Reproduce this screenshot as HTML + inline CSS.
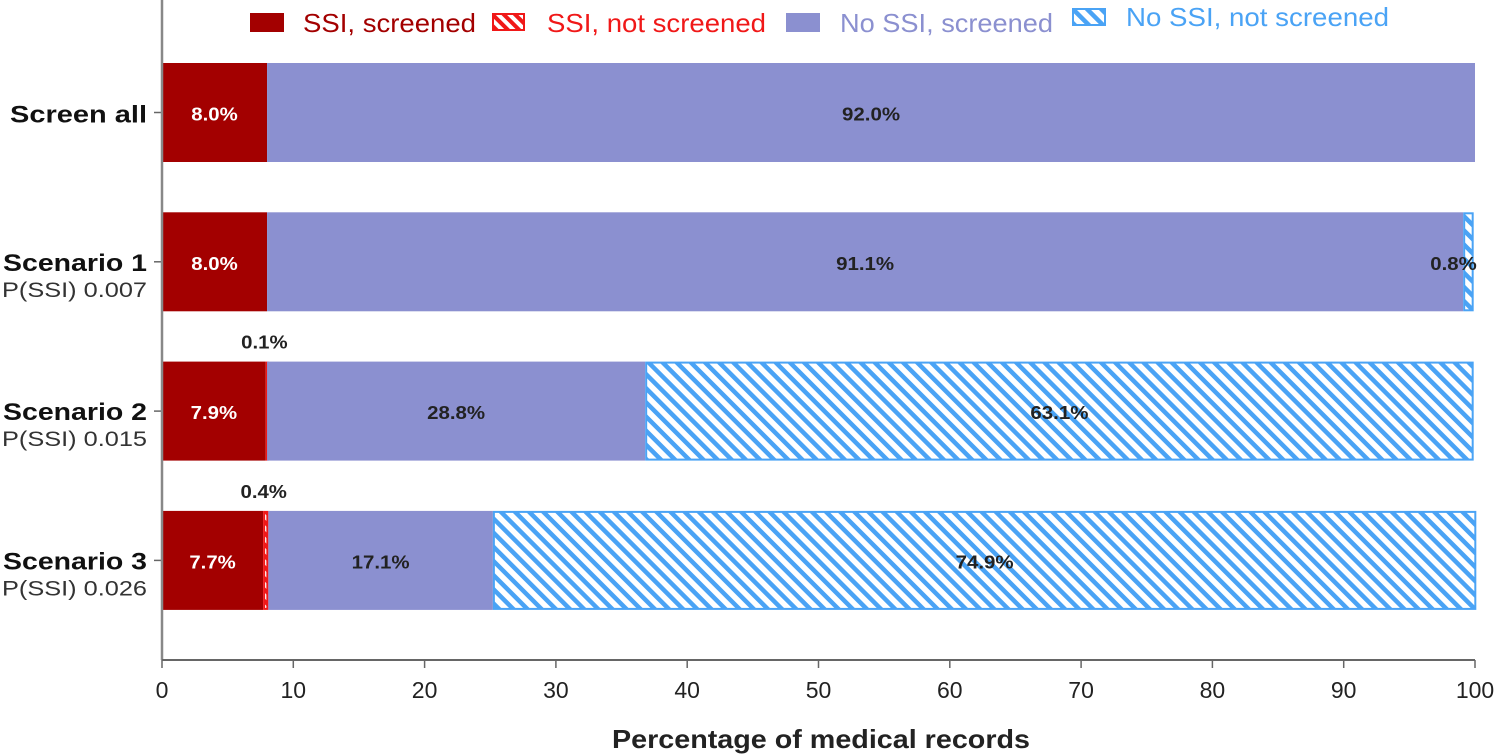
<!DOCTYPE html>
<html><head><meta charset="utf-8"><style>
body{margin:0;background:#fff}
svg{display:block;font-family:"Liberation Sans",Arial,sans-serif}
</style></head><body>
<svg id="chart" width="1500" height="755" viewBox="0 0 1500 755">
<defs>
<pattern id="hatchBlue" patternUnits="userSpaceOnUse" width="10" height="10" patternTransform="rotate(-45)">
<rect width="10" height="10" fill="#fff"/><rect width="4.5" height="10" fill="#4aa3f5"/>
</pattern>
<pattern id="hatchRed" patternUnits="userSpaceOnUse" width="8" height="8" patternTransform="rotate(-45)">
<rect width="8" height="8" fill="#fff"/><rect width="4" height="8" fill="#f01818"/>
</pattern>
</defs>
<g id="legend">
<g><rect x="250" y="13" width="34" height="19" fill="#a30000"/><text x="303" y="32" font-size="26" fill="#a30000" textLength="173" lengthAdjust="spacingAndGlyphs">SSI, screened</text></g>
<g><rect x="493" y="14" width="31" height="16" fill="url(#hatchRed)" stroke="#f01818" stroke-width="2"/><text x="547" y="32" font-size="26" fill="#f01818" textLength="219" lengthAdjust="spacingAndGlyphs">SSI, not screened</text></g>
<g><rect x="786" y="13" width="34" height="19" fill="#8b90d0"/><text x="840" y="32" font-size="26" fill="#8b90d0" textLength="213" lengthAdjust="spacingAndGlyphs">No SSI, screened</text></g>
<g><rect x="1073" y="9" width="32" height="16" fill="url(#hatchBlue)" stroke="#4aa3f5" stroke-width="2"/><text x="1126" y="26" font-size="26" fill="#4aa3f5" textLength="263" lengthAdjust="spacingAndGlyphs">No SSI, not screened</text></g>
</g>
<g id="bars"></g>
<g id="axes"></g>
</svg>
<script>
const categories = ["Screen all","Scenario 1","Scenario 2","Scenario 3"];
const subLabels = ["","P(SSI) 0.007","P(SSI) 0.015","P(SSI) 0.026"];
const ssiScreened = [8.0, 8.0, 7.9, 7.7];
const ssiNotScreened = [0, 0, 0.1, 0.4];
const noSsiScreened = [92.0, 91.1, 28.8, 17.1];
const noSsiNotScreened = [0, 0.8, 63.1, 74.9];
const xTicks = [0,10,20,30,40,50,60,70,80,90,100];

const NS = "http://www.w3.org/2000/svg";
const x0 = 162, x1 = 1475, axisY = 660;
const xs = v => x0 + v/100*(x1-x0);
const rowTop = i => 63 + i*149.3;
const barH = 99;
function mk(tag, attrs, parent){ const e=document.createElementNS(NS,tag); for(const k in attrs) e.setAttribute(k,attrs[k]); parent.appendChild(e); return e; }
const bars = document.getElementById('bars');
const axes = document.getElementById('axes');
const series = [
 {vals: ssiScreened, key:'ssi-screened', fill:'#a30000', stroke:'none', txt:'#fff'},
 {vals: ssiNotScreened, key:'ssi-not-screened', fill:'url(#hatchRed)', stroke:'#f01818', txt:'#222'},
 {vals: noSsiScreened, key:'no-ssi-screened', fill:'#8b90d0', stroke:'none', txt:'#222'},
 {vals: noSsiNotScreened, key:'no-ssi-not-screened', fill:'url(#hatchBlue)', stroke:'#4aa3f5', txt:'#222'}
];
categories.forEach((c,i)=>{
  let cum = 0; const y = rowTop(i);
  series.forEach(s=>{
    const v = s.vals[i];
    if (v > 0) {
      const h = s.stroke!=='none';
      const r = mk('rect',{x:xs(cum)+(h?1:0), y:y+(h?1:0), width:Math.max(xs(cum+v)-xs(cum)-(h?2:0),1), height:barH-(h?2:0), fill:s.fill, stroke:s.stroke, 'stroke-width':2}, bars);
      
      
      let tx, ty, anchor='middle';
      if (v < 1 && s.key==='ssi-not-screened') { tx = (xs(cum)+xs(cum+v))/2 - 2; ty = y - 13; }
      else if (v < 1) { tx = xs(cum+v)+3; ty = y+barH/2+8; anchor='end'; }
      else { tx = (xs(cum)+xs(cum+v))/2; ty = y+barH/2+8; }
      const str = v.toFixed(1) + '%';
      const t = mk('text',{x:tx, y:ty, 'font-size':18, 'font-weight':'bold', fill:(v<1?'#222':s.txt), 'text-anchor':anchor, textLength:11.6*str.length, lengthAdjust:'spacingAndGlyphs'}, bars);
      t.textContent = str;
      
      
    }
    cum += v;
  });
  const cy = y + barH/2;
  const lbl = mk('text',{x:147, y: subLabels[i] ? cy+9 : cy+10, 'font-size':24, 'font-weight':'bold', fill:'#111', 'text-anchor':'end', textLength: i===0 ? 137 : 144, lengthAdjust:'spacingAndGlyphs'}, axes);
  lbl.textContent = c;
  
  
  if (subLabels[i]) {
    const sl = mk('text',{x:147, y:cy+35, 'font-size':21, fill:'#333', 'text-anchor':'end', textLength:145, lengthAdjust:'spacingAndGlyphs'}, axes);
    sl.textContent = subLabels[i];
    
    
  }
  const tk = mk('line',{x1:x0-8, x2:x0, y1:cy, y2:cy, stroke:'#666', 'stroke-width':1.5}, axes);
  
  
});
const ya = mk('line',{x1:x0, x2:x0, y1:0, y2:axisY, stroke:'#888', 'stroke-width':2.5}, axes);


const xa = mk('line',{x1:x0, x2:x1, y1:axisY, y2:axisY, stroke:'#666', 'stroke-width':2}, axes);


xTicks.forEach(v=>{
  const l = mk('line',{x1:xs(v), x2:xs(v), y1:axisY, y2:axisY+8, stroke:'#666', 'stroke-width':1.5}, axes);
  
  
  const t = mk('text',{x:xs(v), y:698, 'font-size':23, fill:'#222', 'text-anchor':'middle'}, axes);
  t.textContent = v;
  
  
});
const title = mk('text',{x:821, y:748, 'font-size':26, 'font-weight':'bold', fill:'#222', 'text-anchor':'middle', textLength:418, lengthAdjust:'spacingAndGlyphs'}, axes);
title.textContent = 'Percentage of medical records';


</script>
</body></html>
